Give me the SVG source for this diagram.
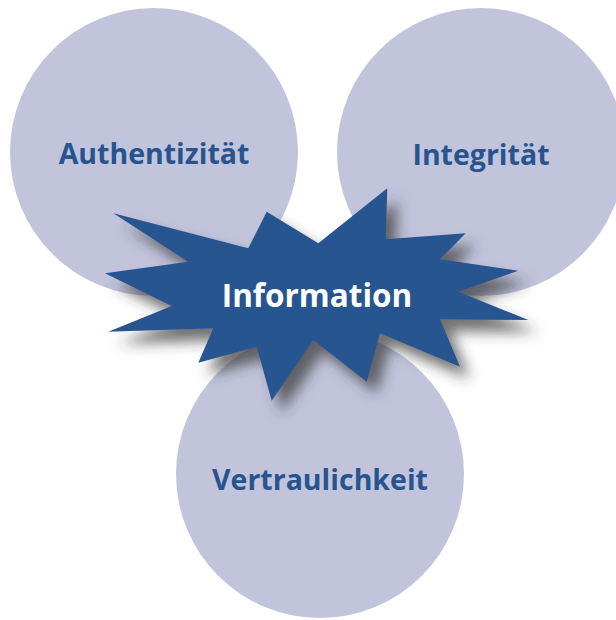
<svg xmlns="http://www.w3.org/2000/svg" width="616" height="620" viewBox="0 0 616 620">
<style>
.c{fill:#c2c4dc}
.t{font-family:"Open Sans","Noto Sans",sans-serif;font-weight:bold;font-size:28.5px;fill:#27548f;text-anchor:middle}
.w{fill:#ffffff;font-size:31.5px}
.star{fill:#27548f}
</style>
<defs>
<filter id="sh" x="-20%" y="-20%" width="150%" height="160%">
<feDropShadow dx="10" dy="12" stdDeviation="7" flood-color="#303030" flood-opacity="0.7"/>
</filter>
</defs>
<rect width="616" height="620" fill="#ffffff"/>
<g id="authentizitaet"><circle class="c" cx="154" cy="152" r="144"/><text class="t" x="154" y="164">Authentizität</text></g>
<g id="integritaet"><circle class="c" cx="481" cy="152" r="144"/><text class="t" x="481" y="165">Integrität</text></g>
<g id="vertraulichkeit"><circle class="c" cx="320" cy="474" r="144"/><text class="t" x="320" y="490">Vertraulichkeit</text></g>
<g id="information">
<polygon class="star" filter="url(#sh)" points="113.3,213.3 248.3,248.3 266.7,211.7 318.3,243.3 387.3,188.3 385.7,239.3 465.7,233.3 440,259.3 518.3,270.7 458.3,291.7 528.3,320 440,319.3 460,366.7 380,333.3 366.7,381.7 313.3,340 271.7,400.7 256.7,346.7 198.3,362.7 213.3,328.3 108.3,331.7 171.7,306 105,273.3 188.3,261.7"/>
<text class="t w" x="317" y="307">Information</text>
</g>
<g id="connectors"/>
</svg>
